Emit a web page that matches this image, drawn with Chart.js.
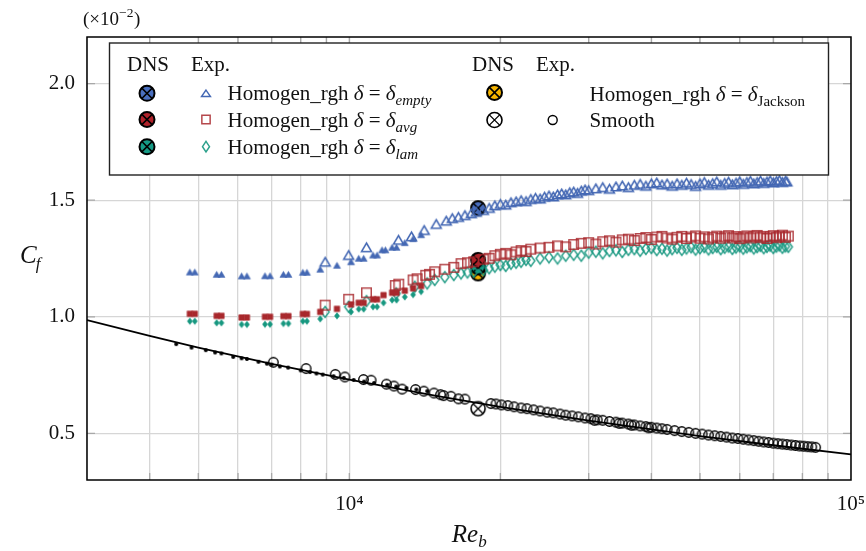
<!DOCTYPE html>
<html><head><meta charset="utf-8">
<script src="https://cdn.jsdelivr.net/npm/chart.js@4.4.1/dist/chart.umd.min.js"></script>
<style>html,body{margin:0;padding:0;background:#fff}canvas{display:block}</style>
</head><body>
<canvas id="c" width="866" height="551" style="width:866px;height:551px"></canvas>
<script>
const FONT = '"Liberation Serif", "Times New Roman", serif';

// ---- axes ----
const X_MIN = 3000, X_MAX = 100000, Y_MIN = 0.30, Y_MAX = 2.20;
const X_TICKS = [3000,4000,5000,6000,7000,8000,9000,10000,20000,30000,40000,50000,60000,70000,80000,90000,100000];
const X_LABELED = [10000, 100000];
const Y_TICKS = [0.5, 1.0, 1.5, 2.0];

// ---- smooth-wall correlation line ----
const LINE_RE = [3000,4000,5000,7000,10000,15000,20000,30000,50000,70000,100000];
const LINE_CF = [0.986,0.918,0.868,0.798,0.730,0.660,0.614,0.555,0.488,0.449,0.410];

// ---- DNS ----
const DNS_RE = 18060;
const DNS_EMPTY = 1.466, DNS_AVG = 1.244, DNS_LAM = 1.212, DNS_JACKSON = 1.186, DNS_SMOOTH = 0.606;

// ---- experiments: small filled markers (low Re) ----
const EMPTY_LOW = [[4810,1.192],[4920,1.192],[5440,1.182],[5560,1.182],[6100,1.175],[6250,1.175],[6790,1.176],[6950,1.176],[7390,1.182],[7560,1.182],[8080,1.191],[8230,1.191],[8750,1.204],[9450,1.221],[10080,1.236],[10440,1.251],[10680,1.251],[11150,1.265],[11360,1.265],[11620,1.287],[11800,1.287],[12170,1.298],[12420,1.298],[12900,1.318],[13400,1.335],[13900,1.352]];
const AVG_LOW = [[4810,1.013],[4920,1.013],[5440,1.004],[5560,1.004],[6100,0.997],[6250,0.997],[6790,1.000],[6950,1.000],[7390,1.003],[7560,1.003],[8080,1.012],[8230,1.012],[8750,1.021],[9450,1.034],[10080,1.053],[10440,1.060],[10680,1.060],[11150,1.075],[11360,1.075],[11700,1.093],[12170,1.103],[12420,1.103],[12900,1.112],[13400,1.122],[13900,1.132]];
const LAM_LOW = [[4810,0.981],[4920,0.981],[5440,0.974],[5560,0.974],[6100,0.967],[6250,0.967],[6790,0.968],[6950,0.968],[7390,0.971],[7560,0.971],[8080,0.981],[8230,0.981],[8750,0.991],[9450,1.004],[10080,1.021],[10440,1.033],[10680,1.033],[11150,1.043],[11360,1.043],[11700,1.060],[12170,1.072],[12420,1.072],[12900,1.085],[13400,1.095],[13900,1.108]];
const SMOOTH_LOW = [[4518,0.883],[4847,0.868],[5175,0.857],[5400,0.847],[5560,0.843],[5870,0.828],[6100,0.822],[6250,0.819],[6590,0.807],[6850,0.799],[7000,0.795],[7270,0.787],[7550,0.782],[8000,0.770],[8350,0.763],[8600,0.757],[8850,0.752],[9300,0.745],[9750,0.738],[10200,0.729],[10700,0.722],[11200,0.716],[11900,0.708],[12400,0.701],[13000,0.694],[13600,0.688],[14300,0.681]];

// ---- experiments: open markers ----
const EMPTY_EXP = [[8950,1.236],[9970,1.265],[10820,1.298],[12530,1.330],[13300,1.345],[14100,1.372],[14900,1.398],[15600,1.412],[16040,1.423],[16500,1.428],[17000,1.436],[17500,1.444],[17900,1.450],[18500,1.458],[19000,1.467],[19500,1.478],[20000,1.484],[20500,1.481],[21000,1.491],[21500,1.495],[22000,1.500],[22500,1.496],[23000,1.505],[23500,1.510],[24000,1.507],[24500,1.515],[25000,1.520],[25500,1.516],[26000,1.525],[26500,1.529],[27000,1.525],[27500,1.534],[28000,1.537],[28500,1.531],[29000,1.541],[29500,1.546],[30000,1.543],[31000,1.551],[32000,1.556],[33000,1.549],[34000,1.559],[35000,1.563],[36000,1.556],[37000,1.566],[38000,1.570],[39000,1.562],[40000,1.572],[41000,1.576],[42000,1.567],[43000,1.571],[44000,1.562],[45000,1.572],[46000,1.566],[47000,1.575],[48000,1.569],[49000,1.561],[50000,1.572],[51000,1.578],[52000,1.566],[53000,1.573],[54000,1.580],[55000,1.566],[56000,1.574],[57000,1.579],[58000,1.568],[59000,1.575],[60000,1.581],[61000,1.570],[62000,1.578],[63000,1.583],[64000,1.572],[65000,1.578],[66000,1.584],[67000,1.574],[68000,1.580],[69000,1.585],[70000,1.576],[71000,1.582],[72000,1.586],[73000,1.578],[74000,1.583],[74500,1.580]];
const AVG_EXP = [[8950,1.050],[9970,1.075],[10820,1.103],[12350,1.134],[12550,1.140],[13400,1.158],[13650,1.163],[14200,1.178],[14450,1.182],[14800,1.193],[15500,1.204],[16150,1.212],[16700,1.228],[17200,1.232],[17700,1.236],[18500,1.247],[19000,1.251],[19500,1.262],[20000,1.268],[20500,1.272],[21000,1.266],[21500,1.278],[22000,1.284],[22500,1.280],[23000,1.290],[24000,1.295],[25000,1.298],[26000,1.304],[27000,1.300],[28000,1.310],[29000,1.315],[30000,1.318],[31000,1.312],[32000,1.322],[33000,1.326],[34000,1.320],[35000,1.330],[36000,1.333],[37000,1.327],[38000,1.336],[39000,1.340],[40000,1.332],[41000,1.342],[42000,1.345],[43000,1.338],[44000,1.333],[45000,1.341],[46000,1.345],[47000,1.336],[48000,1.342],[49000,1.347],[50000,1.337],[51000,1.343],[52000,1.334],[53000,1.341],[54000,1.346],[55000,1.337],[56000,1.343],[57000,1.348],[58000,1.338],[59000,1.344],[60000,1.335],[61000,1.342],[62000,1.347],[63000,1.338],[64000,1.344],[65000,1.349],[66000,1.339],[67000,1.345],[68000,1.336],[69000,1.343],[70000,1.348],[71000,1.339],[72000,1.345],[73000,1.350],[74000,1.341],[75000,1.346]];
const LAM_EXP = [[8950,1.021],[9970,1.043],[10820,1.067],[12400,1.100],[13500,1.129],[14300,1.143],[14800,1.158],[15500,1.170],[16150,1.179],[16700,1.186],[17200,1.190],[17700,1.193],[18500,1.200],[19000,1.208],[19500,1.215],[20000,1.222],[20500,1.218],[21000,1.228],[21500,1.232],[22000,1.236],[22500,1.244],[23000,1.240],[24000,1.250],[25000,1.255],[26000,1.250],[27000,1.262],[28000,1.266],[29000,1.262],[30000,1.275],[31000,1.279],[32000,1.272],[33000,1.282],[34000,1.285],[35000,1.278],[36000,1.287],[37000,1.290],[38000,1.283],[39000,1.291],[40000,1.295],[41000,1.286],[42000,1.292],[43000,1.284],[44000,1.290],[45000,1.296],[46000,1.287],[47000,1.293],[48000,1.298],[49000,1.288],[50000,1.294],[51000,1.299],[52000,1.289],[53000,1.295],[54000,1.300],[55000,1.290],[56000,1.296],[57000,1.301],[58000,1.291],[59000,1.297],[60000,1.302],[61000,1.292],[62000,1.298],[63000,1.303],[64000,1.293],[65000,1.299],[66000,1.304],[67000,1.294],[68000,1.300],[69000,1.305],[70000,1.295],[71000,1.301],[72000,1.306],[73000,1.296],[74000,1.302],[75000,1.300]];
const SMOOTH_EXP = [[7056,0.805],[8200,0.778],[9375,0.753],[9800,0.742],[10670,0.731],[11050,0.728],[11860,0.711],[12270,0.703],[12740,0.690],[13550,0.688],[14080,0.681],[14750,0.673],[15200,0.666],[15420,0.662],[15940,0.659],[16510,0.648],[17000,0.647],[19150,0.628],[19600,0.626],[20100,0.622],[20700,0.619],[21300,0.614],[22000,0.609],[22600,0.606],[23300,0.601],[24000,0.596],[24800,0.591],[25500,0.588],[26300,0.583],[27000,0.578],[27800,0.575],[28600,0.571],[29500,0.566],[30300,0.563],[30800,0.556],[31200,0.558],[32000,0.556],[33000,0.551],[34000,0.548],[34500,0.543],[35000,0.544],[36000,0.540],[36500,0.535],[37000,0.536],[38000,0.532],[39000,0.529],[39500,0.524],[40000,0.526],[41000,0.523],[42000,0.520],[43000,0.517],[44500,0.512],[46000,0.508],[47500,0.504],[49000,0.500],[50500,0.497],[52000,0.493],[53500,0.490],[55000,0.487],[56500,0.484],[58000,0.480],[59500,0.478],[61000,0.475],[62500,0.472],[64000,0.469],[65500,0.466],[67000,0.463],[68500,0.461],[70000,0.458],[71500,0.456],[73000,0.454],[74500,0.452],[76000,0.450],[77500,0.448],[79000,0.446],[80500,0.445],[82000,0.443],[83500,0.442],[85000,0.440]];

// ---- colours ----
const BLUE = '#4468b4', RED = '#a8282d', TEAL = '#16977f';
const DNS_BLUE = '#4a6fbf', DNS_RED = '#b0222a', DNS_TEAL = '#159a85', DNS_YEL = '#f5b400';

// ---- marker painting ----
function paint(g, kind, x, y, o) {
  const w = o.w, h = o.h || o.w;
  g.save();
  g.lineWidth = o.lw || 1;
  g.lineJoin = 'miter';
  g.strokeStyle = o.stroke || 'transparent';
  g.beginPath();
  if (kind === 'tri') { g.moveTo(x, y - h/2); g.lineTo(x + w/2, y + h/2); g.lineTo(x - w/2, y + h/2); g.closePath(); }
  else if (kind === 'sq') { g.rect(x - w/2, y - h/2, w, h); }
  else if (kind === 'dia') { g.moveTo(x, y - h/2); g.lineTo(x + w/2, y); g.lineTo(x, y + h/2); g.lineTo(x - w/2, y); g.closePath(); }
  else { g.arc(x, y, w/2, 0, Math.PI*2); }
  if (o.fill) { g.fillStyle = o.fill; g.fill(); }
  if (o.stroke) g.stroke();
  if (kind === 'dns') {
    const r = w/2 * 0.72;
    g.beginPath();
    g.moveTo(x - r, y - r); g.lineTo(x + r, y + r);
    g.moveTo(x + r, y - r); g.lineTo(x - r, y + r);
    g.lineWidth = o.xlw || 1.5; g.strokeStyle = '#000'; g.stroke();
  }
  g.restore();
}
function marker(kind, o) {
  const S = Math.ceil(Math.max(o.w, o.h || o.w) + 2*(o.lw || 1) + 4);
  const c = document.createElement('canvas'); c.width = S; c.height = S;
  paint(c.getContext('2d'), kind, S/2, S/2, o);
  return c;
}
const M = {
  triSmall: {k:'tri', o:{w:7, h:6, fill:BLUE, stroke:BLUE, lw:0.6}},
  triOpen:  {k:'tri', o:{w:10, h:8.5, stroke:BLUE, lw:1.5}},
  sqSmall:  {k:'sq',  o:{w:5.5, h:5.5, fill:RED, stroke:RED, lw:0.6}},
  sqOpen:   {k:'sq',  o:{w:9.5, h:9.5, stroke:'rgba(168,40,45,0.85)', lw:1.5}},
  diaSmall: {k:'dia', o:{w:5, h:6.5, fill:TEAL, stroke:TEAL, lw:0.6}},
  diaOpen:  {k:'dia', o:{w:8, h:11, stroke:'rgba(22,151,127,0.9)', lw:1.5}},
  dotSmall: {k:'circ', o:{w:4, fill:'#000'}},
  circOpen: {k:'circ', o:{w:9.5, stroke:'#000', lw:1.4}},
  dnsBlue:  {k:'dns', o:{w:14, fill:DNS_BLUE, stroke:'#000', lw:2}},
  dnsRed:   {k:'dns', o:{w:14, fill:DNS_RED, stroke:'#000', lw:2}},
  dnsTeal:  {k:'dns', o:{w:14, fill:DNS_TEAL, stroke:'#000', lw:2}},
  dnsYel:   {k:'dns', o:{w:14, fill:DNS_YEL, stroke:'#000', lw:2}},
  dnsSmooth:{k:'dns', o:{w:14, fill:'#fff', stroke:'#000', lw:1.6, xlw:1.3}}
};
const IMG = {}; for (const k in M) IMG[k] = marker(M[k].k, M[k].o);

const pts = arr => arr.map(([x, y]) => ({x, y}));
function ds(data, img, extra) {
  return Object.assign({type:'scatter', data:pts(data), pointStyle:img, pointRadius:5, pointHoverRadius:5, showLine:false}, extra || {});
}

const SUP = {'0':'⁰','1':'¹','2':'²','3':'³','4':'⁴','5':'⁵','6':'⁶','7':'⁷','8':'⁸','9':'⁹'};
const sup = n => String(n).split('').map(d => SUP[d]).join('');

// ---- rich text ----
function rich(ctx, x, y, parts) {
  for (const p of parts) {
    const size = p.size || 21;
    ctx.font = (p.it ? 'italic ' : '') + size + 'px ' + FONT;
    ctx.fillText(p.t, x, y + (p.dy || 0));
    x += ctx.measureText(p.t).width;
  }
  return x;
}
const sub = (t, it) => ({t, it, size:15, dy:5});

const decor = {
  id: 'decor',
  beforeDatasetsDraw(chart) {
    const {ctx, chartArea: a, scales} = chart;
    ctx.save();
    ctx.strokeStyle = '#a8a8a8'; ctx.lineWidth = 1.3;
    ctx.beginPath();
    for (const v of X_TICKS) {
      if (v <= X_MIN || v >= X_MAX) continue;
      const px = scales.x.getPixelForValue(v);
      ctx.moveTo(px, a.bottom); ctx.lineTo(px, a.bottom - 7);
      ctx.moveTo(px, a.top); ctx.lineTo(px, a.top + 7);
    }
    for (const v of Y_TICKS) {
      const py = scales.y.getPixelForValue(v);
      ctx.moveTo(a.left, py); ctx.lineTo(a.left + 8, py);
      ctx.moveTo(a.right, py); ctx.lineTo(a.right - 8, py);
    }
    ctx.stroke();
    ctx.strokeStyle = '#000'; ctx.lineWidth = 1.5;
    ctx.strokeRect(a.left, a.top, a.right - a.left, a.bottom - a.top);
    ctx.restore();
  },
  afterDraw(chart) {
    const {ctx, chartArea: a} = chart;
    ctx.save();
    ctx.fillStyle = '#111'; ctx.textBaseline = 'alphabetic'; ctx.textAlign = 'left';
    // exponent note
    let x = rich(ctx, 83, 25, [{t:'(×10', size:19}]);
    x = rich(ctx, x, 17, [{t:'−2', size:13.5}]);
    rich(ctx, x + 0.5, 25, [{t:')', size:19}]);
    // axis titles
    x = rich(ctx, 20, 263, [{t:'C', it:1, size:25}]);
    rich(ctx, x - 1, 269, [{t:'f', it:1, size:17}]);
    const cx = (a.left + a.right) / 2;
    ctx.font = 'italic 25px ' + FONT;
    const wRe = ctx.measureText('Re').width;
    x = rich(ctx, cx - (wRe + 8) / 2, 542, [{t:'Re', it:1, size:25}]);
    rich(ctx, x, 547, [{t:'b', it:1, size:17}]);

    // legend box
    ctx.fillStyle = '#fff';
    ctx.fillRect(109.5, 43, 719, 132);
    ctx.strokeStyle = '#222'; ctx.lineWidth = 1.4;
    ctx.strokeRect(109.5, 43, 719, 132);
    ctx.fillStyle = '#111';
    rich(ctx, 127, 71, [{t:'DNS'}]);
    rich(ctx, 191, 71, [{t:'Exp.'}]);
    rich(ctx, 472, 71, [{t:'DNS'}]);
    rich(ctx, 536, 71, [{t:'Exp.'}]);
    const rows1 = [
      {y:93.3, yt:99.5, dns:'dnsBlue', exp:'triOpen', s:'empty'},
      {y:119.5, yt:126.5, dns:'dnsRed', exp:'sqOpen', s:'avg'},
      {y:146.7, yt:154, dns:'dnsTeal', exp:'diaOpen', s:'lam'}
    ];
    for (const r of rows1) {
      paint(ctx, 'dns', 147, r.y, Object.assign({}, M[r.dns].o, {w:15}));
      const mo = Object.assign({}, M[r.exp].o);
      if (r.exp === 'triOpen') { mo.w = 9; mo.h = 6.5; mo.lw = 1.4; }
      if (r.exp === 'sqOpen') { mo.w = 8.3; mo.h = 8.3; }
      if (r.exp === 'diaOpen') { mo.w = 7; mo.h = 10.5; }
      paint(ctx, M[r.exp].k, 206, r.y, mo);
      ctx.fillStyle = '#111';
      rich(ctx, 227.5, r.yt, [{t:'Homogen_rgh '}, {t:'δ', it:1}, {t:' = '}, {t:'δ', it:1}, sub(r.s, 1)]);
    }
    paint(ctx, 'dns', 494.5, 92.5, Object.assign({}, M.dnsYel.o, {w:15}));
    ctx.fillStyle = '#111';
    rich(ctx, 589.5, 100.5, [{t:'Homogen_rgh '}, {t:'δ', it:1}, {t:' = '}, {t:'δ', it:1}, sub('Jackson', 0)]);
    paint(ctx, 'dns', 494.5, 120, Object.assign({}, M.dnsSmooth.o, {w:15}));
    paint(ctx, 'circ', 552.7, 120, {w:9, stroke:'#000', lw:1.4});
    ctx.fillStyle = '#111';
    rich(ctx, 589.5, 127.3, [{t:'Smooth'}]);
    ctx.restore();
  }
};

new Chart(document.getElementById('c'), {
  type: 'scatter',
  data: {
    datasets: [
      {type:'line', data: LINE_RE.map((x, i) => ({x, y: LINE_CF[i]})), borderColor:'#000', borderWidth:1.8, pointRadius:0, tension:0, fill:false},
      ds(SMOOTH_LOW, IMG.dotSmall),
      ds(SMOOTH_EXP, IMG.circOpen),
      ds(EMPTY_LOW, IMG.triSmall),
      ds(EMPTY_EXP, IMG.triOpen),
      ds(AVG_LOW, IMG.sqSmall),
      ds(AVG_EXP, IMG.sqOpen),
      ds(LAM_LOW, IMG.diaSmall),
      ds(LAM_EXP, IMG.diaOpen),
      ds([[DNS_RE, DNS_SMOOTH]], IMG.dnsSmooth),
      ds([[DNS_RE, DNS_EMPTY]], IMG.dnsBlue),
      ds([[DNS_RE, DNS_AVG]], IMG.dnsRed),
      ds([[DNS_RE, DNS_LAM]], IMG.dnsTeal),
      ds([[DNS_RE, DNS_JACKSON]], IMG.dnsYel)
    ]
  },
  options: {
    responsive: false, animation: false, devicePixelRatio: 1,
    layout: {padding: {left: 0, top: 37, right: 15, bottom: 0}},
    plugins: {legend: {display: false}, tooltip: {enabled: false}},
    scales: {
      x: {
        type: 'logarithmic', min: X_MIN, max: X_MAX,
        afterBuildTicks: s => { s.ticks = X_TICKS.map(v => ({value: v, major: X_LABELED.includes(v)})); },
        afterFit: s => { s.height = 71; s.paddingLeft = 0; s.paddingRight = 0; },
        grid: {color: '#d6d6d6', lineWidth: 1.3, drawTicks: false},
        border: {display: false},
        ticks: {
          autoSkip: false, maxRotation: 0, padding: 12, color: '#111',
          font: {family: FONT, size: 21},
          callback: v => X_LABELED.includes(v) ? '10' + sup(Math.round(Math.log10(v))) : ''
        }
      },
      y: {
        type: 'linear', min: Y_MIN, max: Y_MAX,
        afterBuildTicks: s => { s.ticks = Y_TICKS.map(v => ({value: v})); },
        afterFit: s => { s.width = 87; s.paddingTop = 0; s.paddingBottom = 0; },
        grid: {color: '#d6d6d6', lineWidth: 1.3, drawTicks: false},
        border: {display: false},
        ticks: {padding: 12, color: '#111', font: {family: FONT, size: 21}, callback: v => Number(v).toFixed(1)}
      }
    }
  },
  plugins: [decor]
});
</script>
</body></html>
